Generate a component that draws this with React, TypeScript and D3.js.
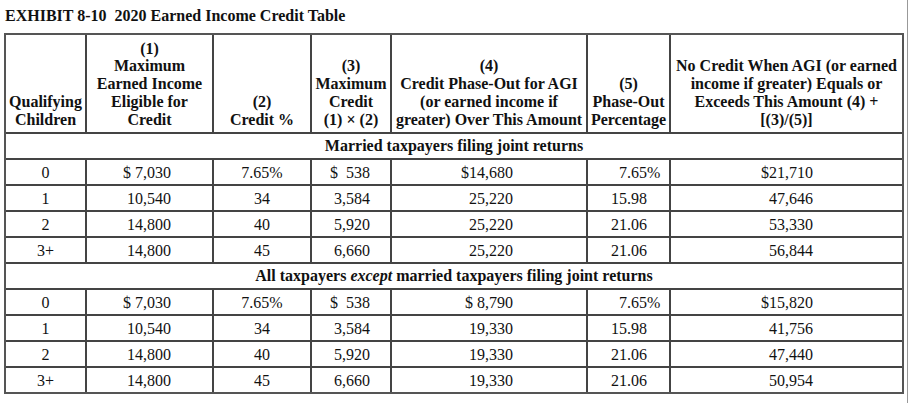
import React from "react";
import * as d3 from "d3";

const title = "EXHIBIT 8-10  2020 Earned Income Credit Table";
const headers: string[][] = [
  ["Qualifying", "Children"],
  ["(1)", "Maximum", "Earned Income", "Eligible for", "Credit"],
  ["(2)", "Credit %"],
  ["(3)", "Maximum", "Credit", "(1) × (2)"],
  ["(4)", "Credit Phase-Out for AGI", "(or earned income if", "greater) Over This Amount"],
  ["(5)", "Phase-Out", "Percentage"],
  ["No Credit When AGI (or earned", "income if greater) Equals or", "Exceeds This Amount (4) +", "[(3)/(5)]"],
];
const children = ["0", "1", "2", "3+"];
const maxEarned = [7030, 10540, 14800, 14800];
const creditPct = [7.65, 34, 40, 45];
const maxCredit = [538, 3584, 5920, 6660];
const phaseOutPct = [7.65, 15.98, 21.06, 21.06];
const phaseOutJoint = [14680, 25220, 25220, 25220];
const noCreditJoint = [21710, 47646, 53330, 56844];
const phaseOutOther = [8790, 19330, 19330, 19330];
const noCreditOther = [15820, 41756, 47440, 50954];

const W = 909, H = 403;
const colEdges = [5, 86, 213, 311, 391, 587, 670, 903];
const tableTop = 34, headerBottom = 133, tableBottom = 393;
const FONT = "Liberation Serif, Times New Roman, serif";
const TXT = "#111";
const LINE = "#444";

const fmt = d3.format(",");
function dollarCol(vals: number[]): string[] {
  const s = vals.map(v => fmt(v));
  const maxLen = d3.max(s, d => d.length) as number;
  return s.map((d, i) => (i === 0 ? "$" + " ".repeat(maxLen - d.length) + d : d));
}

export default function App() {
  const rowIds = d3.range(10);
  const y = d3.scaleBand<number>().domain(rowIds).range([headerBottom, tableBottom]).paddingInner(0).paddingOuter(0);
  const x = d3.scaleOrdinal<number, number>().domain(d3.range(colEdges.length)).range(colEdges);
  const colCenter = (c: number) => (x(c) + x(c + 1)) / 2;
  const rh = y.bandwidth();

  const sections = [
    { label: [<tspan key="a">Married taxpayers filing joint returns</tspan>], phase: phaseOutJoint, noCredit: noCreditJoint },
    {
      label: [
        <tspan key="a">All taxpayers </tspan>,
        <tspan key="b" fontStyle="italic">except</tspan>,
        <tspan key="c"> married taxpayers filing joint returns</tspan>,
      ],
      phase: phaseOutOther,
      noCredit: noCreditOther,
    },
  ];

  const lineH = 17.7;
  const headerLastBaseline = 124.5;

  const elems: React.ReactNode[] = [];
  headers.forEach((lines, c) => {
    lines.forEach((ln, k) => {
      const yy = headerLastBaseline - (lines.length - 1 - k) * lineH;
      elems.push(
        <text key={`h${c}-${k}`} x={colCenter(c)} y={yy} textAnchor="middle" fontWeight="bold" fontSize={16}>
          {ln}
        </text>
      );
    });
  });

  const horizLines: number[] = rowIds.map(r => y(r)!);
  sections.forEach((sec, si) => {
    const base = si * 5;
    const sy = y(base)!;
    elems.push(
      <text key={`s${si}`} x={(colEdges[0] + colEdges[colEdges.length - 1]) / 2} y={sy + rh / 2 + 5} textAnchor="middle" fontWeight="bold" fontSize={16}>
        {sec.label}
      </text>
    );
    const c1 = dollarCol(maxEarned);
    const c3 = dollarCol(maxCredit);
    const c4 = dollarCol(sec.phase);
    const c6 = dollarCol(sec.noCredit);
    children.forEach((ch, i) => {
      const ry = y(base + 1 + i)!;
      const by = ry + rh / 2 + 5.5;
      elems.push(
        <g key={`r${si}-${i}`} fontSize={16}>
          <text x={colCenter(0)} y={by} textAnchor="middle">{ch}</text>
          <text x={171} y={by} textAnchor="end" xmlSpace="preserve">{c1[i]}</text>
          <text x={colCenter(2)} y={by} textAnchor="middle">{i === 0 ? `${creditPct[i]}%` : `${creditPct[i]}`}</text>
          <text x={370} y={by} textAnchor="end" xmlSpace="preserve">{c3[i]}</text>
          <text x={513} y={by} textAnchor="end" xmlSpace="preserve">{c4[i]}</text>
          <text x={647} y={by} textAnchor="end">{d3.format(".2f")(phaseOutPct[i])}</text>
          {i === 0 && <text x={647} y={by} textAnchor="start">%</text>}
          <text x={813} y={by} textAnchor="end" xmlSpace="preserve">{c6[i]}</text>
        </g>
      );
    });
  });

  const vSegs: [number, number][] = [
    [tableTop, headerBottom],
    [y(1)!, y(4)! + rh],
    [y(6)!, y(9)! + rh],
  ];

  return (
    <svg width={W} height={H} style={{ position: "absolute", left: 0, top: 0, background: "#fff" }} fontFamily={FONT} fill={TXT}>
      <rect x={0} y={0} width={W} height={H} fill="#fff" />
      <text x={5} y={21} fontWeight="bold" fontSize={16} xmlSpace="preserve">{title}</text>
      <g stroke={LINE} strokeWidth={2} fill="none">
        {horizLines.map((hy, i) => (
          <line key={`hl${i}`} x1={colEdges[0]} x2={colEdges[colEdges.length - 1]} y1={hy} y2={hy} />
        ))}
        {colEdges.slice(1, -1).map((cx, i) =>
          vSegs.map(([a, b], j) => <line key={`v${i}-${j}`} x1={cx} x2={cx} y1={a} y2={b} />)
        )}
        <rect x={colEdges[0]} y={tableTop} width={colEdges[colEdges.length - 1] - colEdges[0]} height={tableBottom - tableTop} stroke="#555" />
      </g>
      <line x1={907.5} x2={907.5} y1={0} y2={H} stroke="#999" strokeWidth={1} />
      <g>{elems}</g>
    </svg>
  );
}
